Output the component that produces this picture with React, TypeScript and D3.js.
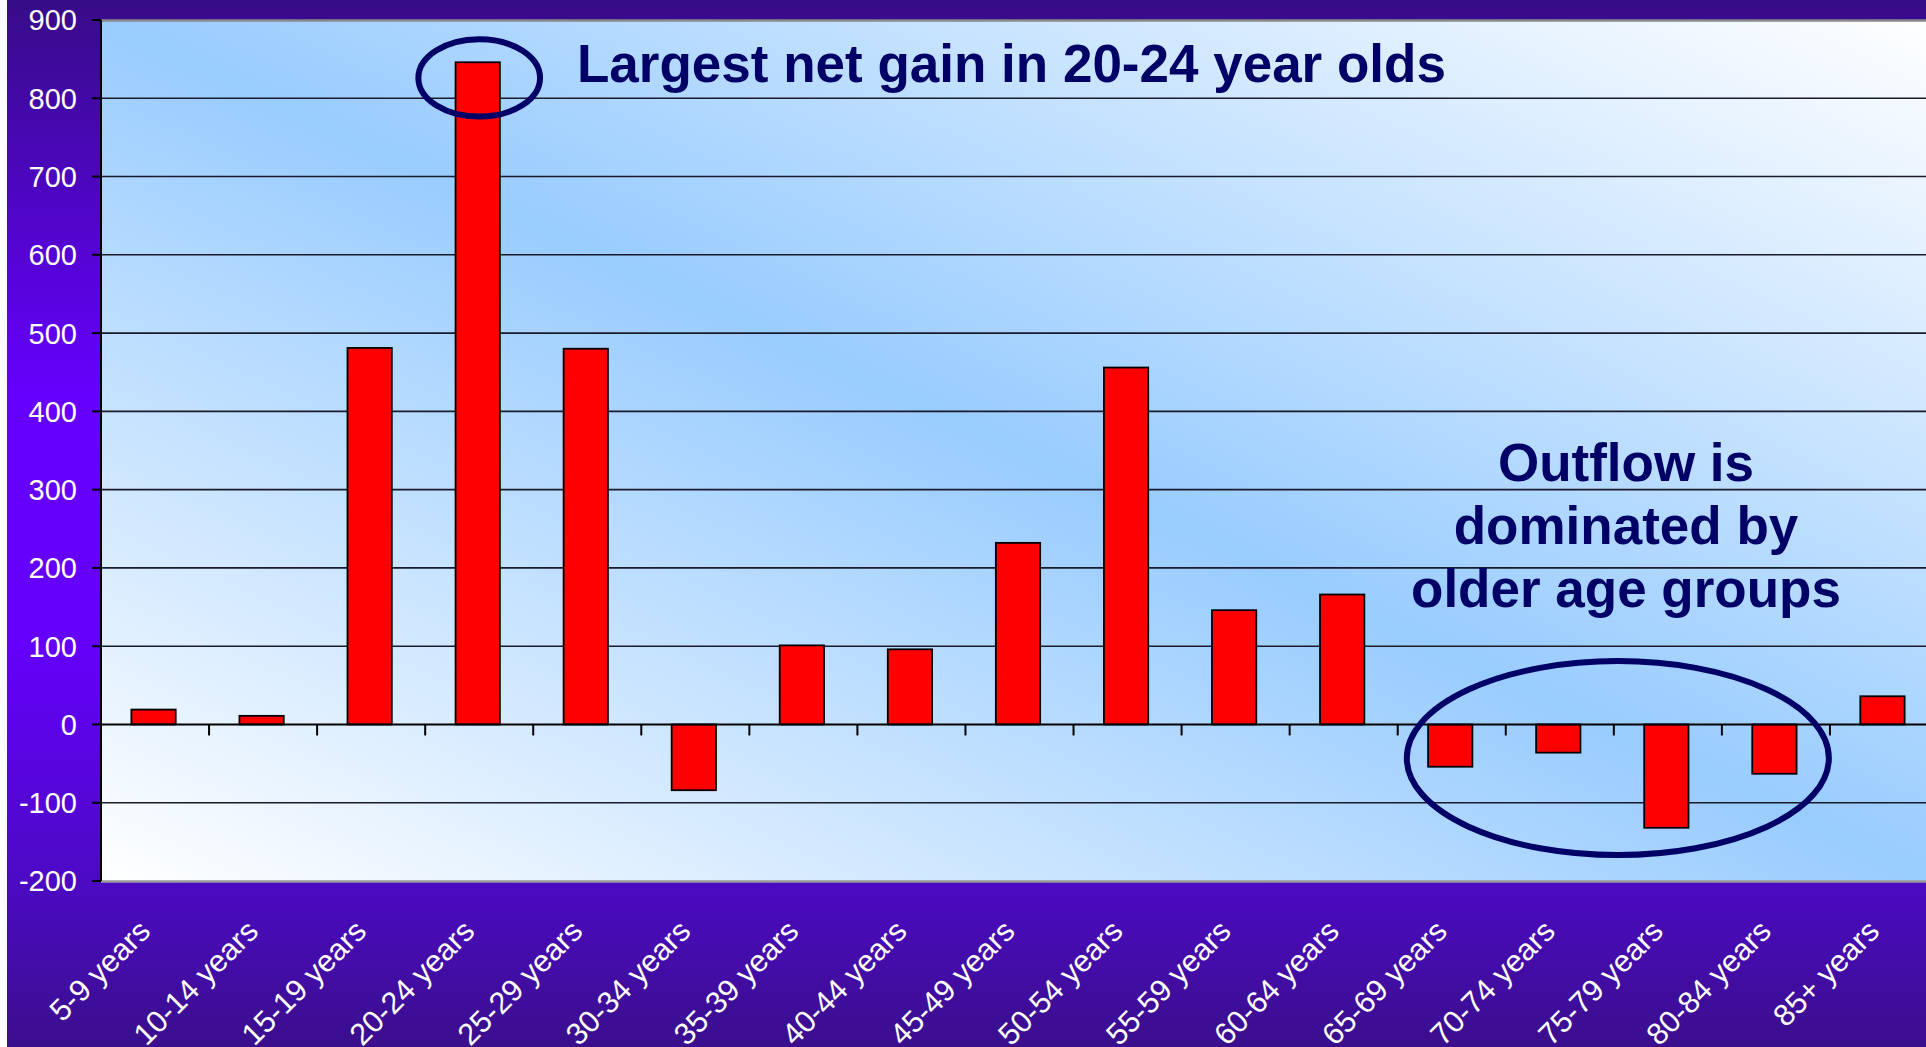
import React from "react";
import * as d3 from "d3";

// ---- data ----
const categories: string[] = [
  "5-9 years", "10-14 years", "15-19 years", "20-24 years", "25-29 years",
  "30-34 years", "35-39 years", "40-44 years", "45-49 years", "50-54 years",
  "55-59 years", "60-64 years", "65-69 years", "70-74 years", "75-79 years",
  "80-84 years", "85+ years",
];
const netMigration: number[] = [
  19, 11, 481, 846, 480, -84, 101, 96, 232, 456, 146, 166, -54, -36, -132, -63, 36,
];
const yTickValues: number[] = [900, 800, 700, 600, 500, 400, 300, 200, 100, 0, -100, -200];
const titleText = "Largest net gain in 20-24 year olds";
const outflowLines: string[] = ["Outflow is", "dominated by", "older age groups"];

// ---- layout ----
const W = 1926;
const H = 1047;
const plotLeft = 101;
const plotRight = 1938;
const plotTop = 20;
const plotBottom = 881;
const FONT = "'Liberation Sans', Arial, Helvetica, sans-serif";
const NAVY = "#000066";

export default function App() {
  const y = d3.scaleLinear().domain([-200, 900]).range([plotBottom, plotTop]);
  const xOuter = d3.scaleBand<string>().domain(categories).range([plotLeft, plotRight]).padding(0);
  const xBar = d3
    .scaleBand<string>()
    .domain(categories)
    .range([plotLeft, plotRight])
    .paddingInner(0.59)
    .paddingOuter(0.295);
  const step = xOuter.step();
  const y0 = y(0);

  const bigCx = (xOuter("75-79 years") as number) + 4;
  const bigCy = y(-43);
  const smallCx = (xOuter("20-24 years") as number) + step / 2;
  const smallCy = y(826);

  return (
    <svg
      width={W}
      height={H}
      style={{ position: "absolute", left: 0, top: 0, display: "block" }}
      xmlns="http://www.w3.org/2000/svg"
    >
      <defs>
        <linearGradient id="purpleBg" x1="0" y1="0" x2="0" y2="1">
          <stop offset="0" stopColor="#370c88" />
          <stop offset="0.38" stopColor="#6600ff" />
          <stop offset="0.62" stopColor="#6400fa" />
          <stop offset="0.84" stopColor="#4c0ac4" />
          <stop offset="1" stopColor="#3a0f8c" />
        </linearGradient>
        <linearGradient id="plotBg" x1="0" y1="1" x2="1" y2="0">
          <stop offset="0" stopColor="#ffffff" />
          <stop offset="0.5" stopColor="#99ccff" />
          <stop offset="1" stopColor="#ffffff" />
        </linearGradient>
      </defs>

      <rect x={0} y={0} width={W} height={H} fill="#ffffff" />
      <rect x={7} y={0} width={W - 7} height={H} fill="url(#purpleBg)" />

      {/* plot area */}
      <rect
        x={plotLeft}
        y={plotTop}
        width={plotRight - plotLeft}
        height={plotBottom - plotTop}
        fill="url(#plotBg)"
      />
      <line x1={plotLeft} x2={plotRight} y1={plotTop + 0.5} y2={plotTop + 0.5} stroke="#8a8a8a" strokeWidth={2.5} />
      <line x1={plotLeft} x2={plotRight} y1={plotBottom + 0.5} y2={plotBottom + 0.5} stroke="#9a9a9a" strokeWidth={2.5} />

      {/* gridlines */}
      {yTickValues
        .filter((v) => v !== 900 && v !== -200 && v !== 0)
        .map((v) => (
          <line key={"g" + v} x1={plotLeft} x2={plotRight} y1={y(v)} y2={y(v)} stroke="#1a1a2a" strokeWidth={1.6} />
        ))}

      {/* y axis */}
      <line x1={plotLeft} x2={plotLeft} y1={plotTop} y2={plotBottom} stroke="#000" strokeWidth={2} />
      {yTickValues.map((v) => (
        <g key={"t" + v}>
          <line x1={plotLeft - 9} x2={plotLeft} y1={y(v)} y2={y(v)} stroke="#000" strokeWidth={2} />
          <text
            x={77}
            y={y(v)}
            dy="0.36em"
            textAnchor="end"
            fontFamily={FONT}
            fontSize={29}
            fill="#ffffff"
          >
            {v}
          </text>
        </g>
      ))}

      {/* bars */}
      {categories.map((c, i) => {
        const v = netMigration[i];
        const top = y(Math.max(0, v));
        const bot = y(Math.min(0, v));
        return (
          <rect
            key={"b" + c}
            x={(xBar(c) as number) - 1.5}
            y={top}
            width={xBar.bandwidth()}
            height={bot - top}
            fill="#ff0000"
            stroke="#000"
            strokeWidth={1.8}
          />
        );
      })}

      {/* x axis at zero */}
      <line x1={plotLeft} x2={plotRight} y1={y0} y2={y0} stroke="#000" strokeWidth={2} />
      {categories.slice(1).map((c) => (
        <line
          key={"xt" + c}
          x1={xOuter(c) as number}
          x2={xOuter(c) as number}
          y1={y0}
          y2={y0 + 11}
          stroke="#000"
          strokeWidth={2}
        />
      ))}

      {/* x labels */}
      {categories.map((c) => {
        const cx = (xOuter(c) as number) + step / 2 - 3;
        return (
          <text
            key={"xl" + c}
            transform={`translate(${cx},${plotBottom + 52}) rotate(-45)`}
            textAnchor="end"
            fontFamily={FONT}
            fontSize={30.5}
            fill="#ffffff"
          >
            {c}
          </text>
        );
      })}

      {/* annotations */}
      <ellipse cx={smallCx} cy={smallCy} rx={step * 0.563} ry={38.7} fill="none" stroke={NAVY} strokeWidth={6} />
      <text x={577} y={82} fontFamily={FONT} fontWeight="bold" fontSize={53} fill={NAVY}>
        {titleText}
      </text>

      <ellipse cx={bigCx} cy={bigCy} rx={step * 1.953} ry={97} fill="none" stroke={NAVY} strokeWidth={6} />
      {outflowLines.map((line, i) => (
        <text
          key={"o" + i}
          x={1626}
          y={481 + i * 63}
          textAnchor="middle"
          fontFamily={FONT}
          fontWeight="bold"
          fontSize={53}
          fill={NAVY}
        >
          {line}
        </text>
      ))}
    </svg>
  );
}
